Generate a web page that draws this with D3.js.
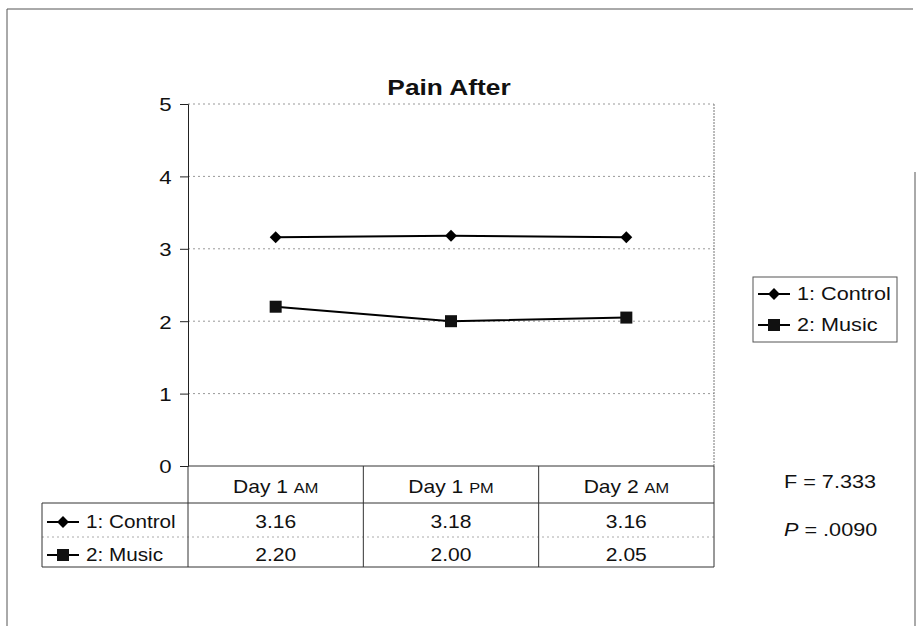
<!DOCTYPE html>
<html>
<head>
<meta charset="utf-8">
<script src="https://cdn.jsdelivr.net/npm/d3@7"></script>
<style>
  body { margin: 0; background: #fff; }
  text { font-family: "Liberation Sans", Arial, sans-serif; fill: #111; }
</style>
</head>
<body>
<script>
// data
let days = ["Day 1", "Day 1", "Day 2"];
let dayParts = ["AM", "PM", "AM"];
let seriesNames = ["1: Control", "2: Music"];
let controlValues = [3.16, 3.18, 3.16];
let musicValues = [2.20, 2.00, 2.05];
let yTicks = [0, 1, 2, 3, 4, 5];

let w = 917;
let h = 626;
let stretch = 1.17;     // scanned text is a bit wider than Arial

let svg = d3.select("body")
    .append("svg")
    .attr("width", w)
    .attr("height", h);

// text placed at an anchor, stretched horizontally
function addText(g, x, y, str, size, anchor) {
    return g.append("text")
        .attr("transform", "translate(" + x + "," + y + ") scale(" + stretch + ",1)")
        .attr("text-anchor", anchor || "start")
        .style("font-size", size + "px")
        .text(str);
}

// outer frame (as scanned)
svg.append("line").attr("x1", 7).attr("y1", 9).attr("x2", 913).attr("y2", 9)
    .attr("stroke", "#555").attr("stroke-width", 1);
svg.append("line").attr("x1", 7).attr("y1", 9).attr("x2", 7).attr("y2", 626)
    .attr("stroke", "#555").attr("stroke-width", 1);
svg.append("line").attr("x1", 915).attr("y1", 172).attr("x2", 915).attr("y2", 626)
    .attr("stroke", "#555").attr("stroke-width", 1);

/************** scales **************/
let plotLeft = 188, plotRight = 714, plotTop = 104, plotBottom = 466;
let xScale = d3.scaleBand()
    .domain(d3.range(days.length))
    .range([plotLeft, plotRight]);
let yScale = d3.scaleLinear()
    .domain([0, 5])
    .range([plotBottom, plotTop]);

// title
addText(svg, 449, 95, "Pain After", 22.5, "middle")
    .attr("font-weight", "bold");

// gridlines (dotted)
svg.selectAll("line.grid")
    .data(yTicks.filter(d => d > 0))
    .enter()
    .append("line")
    .attr("class", "grid")
    .attr("x1", plotLeft).attr("x2", plotRight)
    .attr("y1", d => yScale(d)).attr("y2", d => yScale(d))
    .attr("stroke", "#999")
    .attr("stroke-width", 1)
    .attr("stroke-dasharray", "2,3");

// right edge of plot area
svg.append("line")
    .attr("x1", plotRight).attr("x2", plotRight)
    .attr("y1", plotTop).attr("y2", plotBottom)
    .attr("stroke", "#777").attr("stroke-dasharray", "2,1");

// y axis
let yAxis = d3.axisLeft(yScale)
    .tickValues(yTicks)
    .tickSize(8)
    .tickFormat(d3.format("d"));
let gy = svg.append("g")
    .attr("transform", "translate(" + plotLeft + ",0)")
    .call(yAxis);
gy.select(".domain").attr("stroke", "#222");
gy.selectAll(".tick line").attr("stroke", "#222");
gy.selectAll(".tick text")
    .style("font-size", "19px")
    .style("font-family", "Liberation Sans, Arial, sans-serif")
    .attr("fill", "#111")
    .attr("x", -14)
    .attr("dy", "0.36em")
    .attr("transform", "scale(" + stretch + ",1)");

/************** data table **************/
let rowTop = plotBottom, row1 = 503, row2 = 537, rowEnd = 567, tableLeft = 42;
let tbl = svg.append("g").attr("stroke", "#333").attr("stroke-width", 1);
tbl.append("line").attr("x1", plotLeft).attr("x2", plotRight).attr("y1", rowTop).attr("y2", rowTop);
tbl.append("line").attr("x1", tableLeft).attr("x2", plotRight).attr("y1", row1).attr("y2", row1);
tbl.append("line").attr("x1", tableLeft).attr("x2", plotRight).attr("y1", row2).attr("y2", row2)
    .attr("stroke", "#aaa").attr("stroke-dasharray", "2,3");
tbl.append("line").attr("x1", tableLeft).attr("x2", plotRight).attr("y1", rowEnd).attr("y2", rowEnd);
tbl.append("line").attr("x1", tableLeft).attr("x2", tableLeft).attr("y1", row1).attr("y2", rowEnd);
tbl.append("line").attr("x1", plotLeft).attr("x2", plotLeft).attr("y1", plotBottom).attr("y2", rowEnd);
tbl.append("line").attr("x1", plotRight).attr("x2", plotRight).attr("y1", plotBottom).attr("y2", rowEnd);
tbl.selectAll("line.sep")
    .data(d3.range(1, days.length))
    .enter()
    .append("line")
    .attr("x1", d => xScale(d)).attr("x2", d => xScale(d))
    .attr("y1", rowTop).attr("y2", rowEnd);

// category header
days.forEach(function (d, i) {
    let t = addText(svg, xScale(i) + xScale.bandwidth() / 2, 493, "", 18, "middle");
    t.append("tspan").text(d + " ");
    t.append("tspan").style("font-size", "14px").text(dayParts[i]);
});

// value cells
let allSeries = [controlValues, musicValues];
let rowY = [528, 561];
allSeries.forEach(function (vals, s) {
    vals.forEach(function (v, i) {
        addText(svg, xScale(i) + xScale.bandwidth() / 2, rowY[s], v.toFixed(2), 18, "middle");
    });
});

/************** markers **************/
function marker(g, s, x, y) {
    if (s === 0) {
        g.append("path")
            .attr("d", d3.symbol().type(d3.symbolDiamond2).size(90)())
            .attr("transform", "translate(" + x + "," + y + ")")
            .attr("fill", "#000");
    } else {
        g.append("rect")
            .attr("x", x - 6).attr("y", y - 6)
            .attr("width", 12).attr("height", 12)
            .attr("fill", "#111");
    }
}

function legendKey(g, s, x, y) {
    g.append("line")
        .attr("x1", x - 16).attr("x2", x + 16)
        .attr("y1", y).attr("y2", y)
        .attr("stroke", "#000").attr("stroke-width", 2);
    marker(g, s, x, y);
}

// series lines
let line = d3.line()
    .x((d, i) => xScale(i) + xScale.bandwidth() / 2)
    .y(d => yScale(d));

allSeries.forEach(function (vals, s) {
    svg.append("path")
        .datum(vals)
        .attr("d", line)
        .attr("fill", "none")
        .attr("stroke", "#000")
        .attr("stroke-width", 2);
    let g = svg.append("g");
    vals.forEach(function (v, i) {
        marker(g, s, xScale(i) + xScale.bandwidth() / 2, yScale(v));
    });
});

// series keys in table
let keyG = svg.append("g");
seriesNames.forEach(function (name, s) {
    legendKey(keyG, s, 63, rowY[s] - 6);
    addText(keyG, 86, rowY[s], name, 17.7);
});

/************** legend **************/
let lg = svg.append("g");
lg.append("rect")
    .attr("x", 753).attr("y", 277)
    .attr("width", 144).attr("height", 65)
    .attr("fill", "none")
    .attr("stroke", "#555");
seriesNames.forEach(function (name, s) {
    let y = 300 + s * 31;
    legendKey(lg, s, 774, y - 6);
    addText(lg, 797, y, name, 18.5);
});

// statistics
addText(svg, 784, 488, "F = 7.333", 18.5);
let pt = addText(svg, 784, 536, "", 18.5);
pt.append("tspan").attr("font-style", "italic").text("P");
pt.append("tspan").text(" = .0090");
</script>
</body>
</html>
